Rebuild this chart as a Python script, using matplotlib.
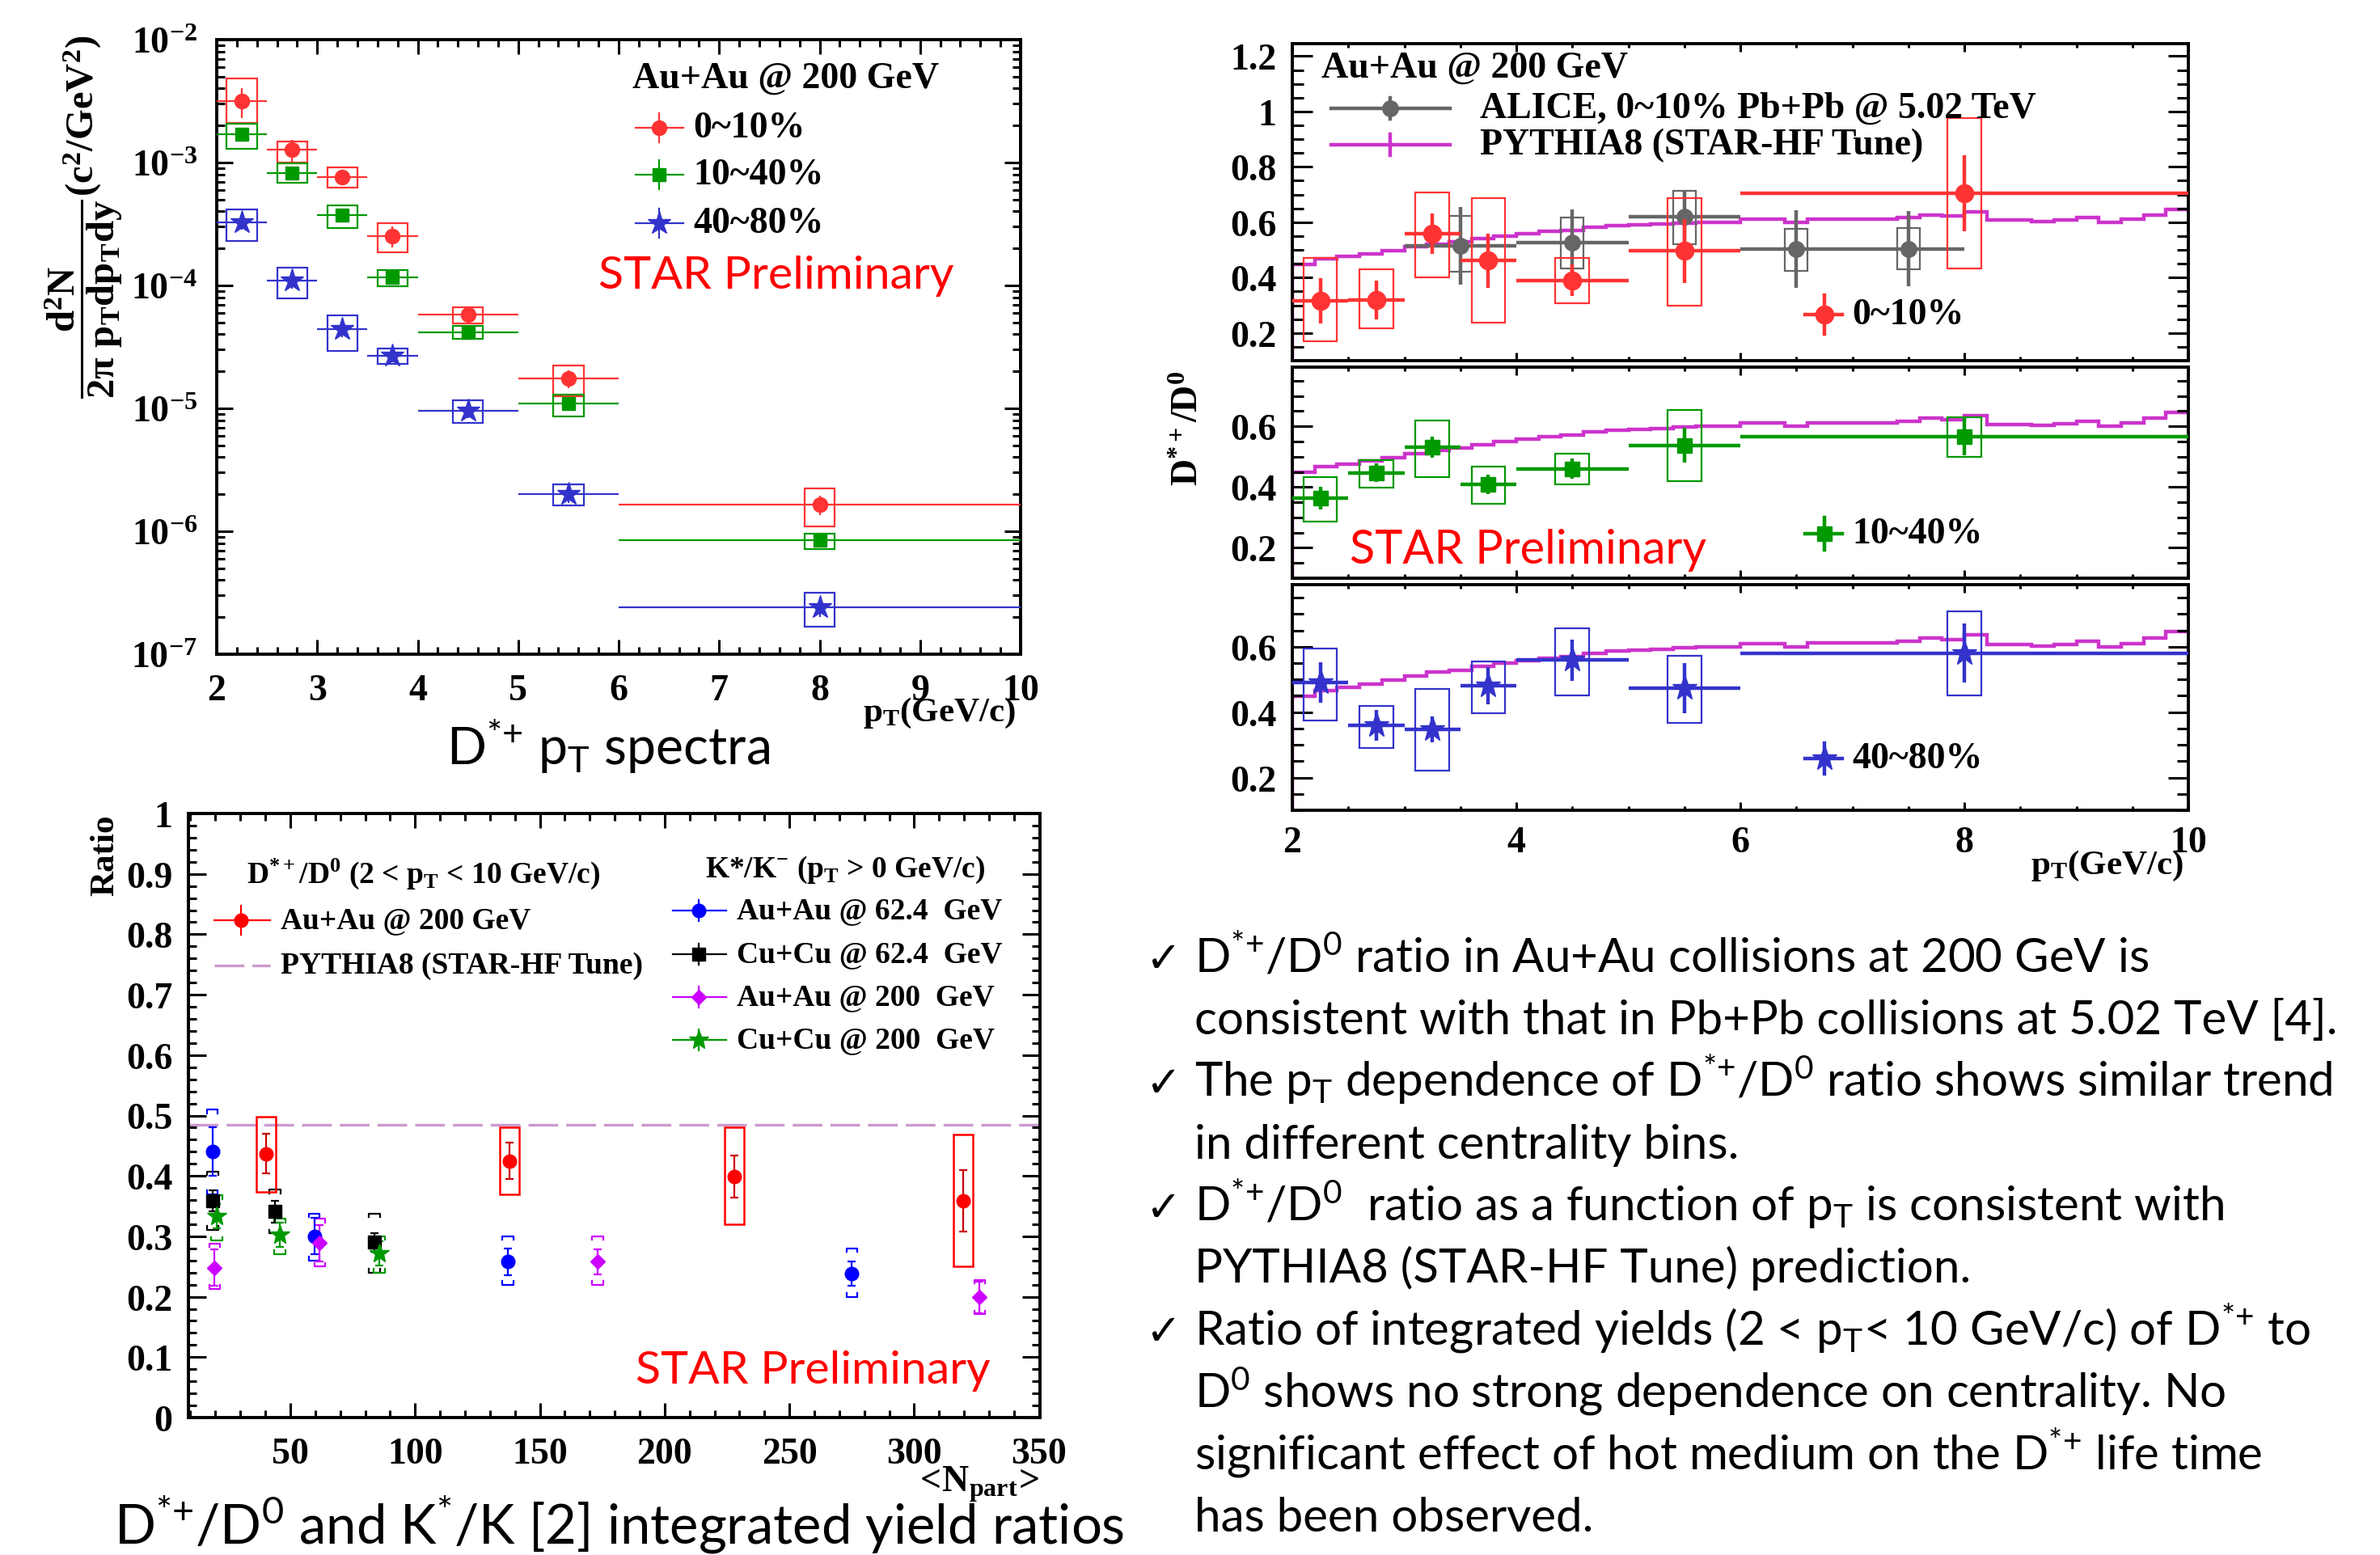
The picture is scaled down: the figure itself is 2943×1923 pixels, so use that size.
import numpy as np
import matplotlib
matplotlib.use('Agg')
import matplotlib.pyplot as plt
from matplotlib import font_manager
from matplotlib.patches import Rectangle
from matplotlib.lines import Line2D
from matplotlib.ticker import MultipleLocator, FuncFormatter, LogLocator, NullFormatter

W, H = 2943, 1924

names = {f.name for f in font_manager.fontManager.ttflist}
SANS = 'Liberation Sans Narrow' if 'Liberation Sans Narrow' in names else 'Lato'
SERIF = 'Liberation Serif'

plt.rcParams['font.family'] = [SERIF, 'DejaVu Serif']
plt.rcParams['font.weight'] = 'bold'
plt.rcParams['mathtext.fontset'] = 'custom'
plt.rcParams['mathtext.rm'] = SANS + ':weight=normal'
plt.rcParams['mathtext.it'] = SANS + ':italic:weight=normal'
plt.rcParams['mathtext.sf'] = SANS + ':weight=normal'
plt.rcParams['mathtext.bf'] = SERIF + ':weight=bold'

# ---------------- data: D*+ pT spectra, Au+Au 200 GeV
pt_edges = [2, 2.5, 3, 3.5, 4, 5, 6, 10]
pt = [2.25, 2.75, 3.25, 3.75, 4.5, 5.5, 8]

y010 = [3.16e-3, 1.27e-3, 7.6e-4, 2.53e-4, 5.8e-5, 1.75e-5, 1.65e-6]
y010_stat = [0.85e-3, 0.25e-3, 0.07e-3, 0.05e-3, 0.5e-5, 0.3e-5, 0.3e-6]
y010_lo = [2.10e-3, 1.0e-3, 6.3e-4, 1.85e-4, 4.94e-5, 1.25e-5, 1.09e-6]
y010_hi = [4.84e-3, 1.49e-3, 9.1e-4, 3.22e-4, 6.65e-5, 2.22e-5, 2.24e-6]

y1040 = [1.71e-3, 8.2e-4, 3.74e-4, 1.17e-4, 4.18e-5, 1.09e-5, 8.45e-7]
y1040_stat = [0.15e-3, 0.07e-3, 0.03e-3, 0.01e-3, 0.3e-5, 0.1e-5, 0.6e-7]
y1040_lo = [1.30e-3, 6.8e-4, 2.94e-4, 9.8e-5, 3.7e-5, 8.6e-6, 7.2e-7]
y1040_hi = [2.07e-3, 9.8e-4, 4.5e-4, 1.33e-4, 4.67e-5, 1.30e-5, 9.55e-7]

y4080 = [3.25e-4, 1.09e-4, 4.41e-5, 2.67e-5, 9.55e-6, 2.0e-6, 2.42e-7]
y4080_stat = [0.4e-4, 0.15e-4, 0.6e-5, 0.3e-5, 1.2e-6, 0.3e-6, 0.4e-7]
y4080_lo = [2.29e-4, 7.8e-5, 2.94e-5, 2.29e-5, 7.6e-6, 1.62e-6, 1.67e-7]
y4080_hi = [4.18e-4, 1.40e-4, 5.68e-5, 3.08e-5, 1.16e-5, 2.42e-6, 3.16e-7]

# ---------------- data: D*+/D0 vs pT
r010 = [0.317, 0.32, 0.559, 0.461, 0.39, 0.496, 0.705]
r010_stat = [0.082, 0.07, 0.072, 0.098, 0.057, 0.115, 0.137]
r010_lo = [0.17, 0.217, 0.40, 0.237, 0.307, 0.298, 0.434]
r010_hi = [0.47, 0.43, 0.709, 0.688, 0.47, 0.688, 0.976]

r1040 = [0.364, 0.447, 0.531, 0.409, 0.46, 0.538, 0.567]
r1040_stat = [0.037, 0.03, 0.035, 0.032, 0.033, 0.058, 0.063]
r1040_lo = [0.287, 0.397, 0.434, 0.346, 0.41, 0.42, 0.5]
r1040_hi = [0.434, 0.49, 0.619, 0.467, 0.509, 0.653, 0.631]

r4080 = [0.49, 0.359, 0.348, 0.481, 0.559, 0.473, 0.581]
r4080_stat = [0.062, 0.047, 0.04, 0.057, 0.063, 0.076, 0.09]
r4080_lo = [0.375, 0.29, 0.222, 0.397, 0.452, 0.367, 0.452]
r4080_hi = [0.595, 0.42, 0.47, 0.555, 0.657, 0.573, 0.709]

alice_edges = [3, 4, 5, 6, 7, 8]
alice_pt = [3.5, 4.5, 5.5, 6.5, 7.5]
alice_r = [0.515, 0.525, 0.62, 0.502, 0.504]
alice_stat = [0.14, 0.122, 0.09, 0.14, 0.135]
alice_lo = [0.42, 0.432, 0.52, 0.424, 0.43]
alice_hi = [0.624, 0.616, 0.714, 0.576, 0.58]

pythia_edges = np.linspace(2, 10, 41)
pythia_r = [0.449, 0.467, 0.476, 0.485, 0.498, 0.511, 0.522, 0.529, 0.540, 0.550,
            0.558, 0.566, 0.571, 0.581, 0.587, 0.590, 0.593, 0.597, 0.600, 0.600,
            0.610, 0.610, 0.600, 0.612, 0.612, 0.612, 0.612, 0.617, 0.626, 0.622,
            0.636, 0.607, 0.607, 0.602, 0.608, 0.617, 0.600, 0.610, 0.626, 0.646]

# ---------------- data: integrated ratios vs <Npart>
npart_d = [40.2, 137.7, 228.0, 319.7]
ratio_d = [0.437, 0.425, 0.399, 0.359]
ratio_d_stat = [0.033, 0.03, 0.035, 0.051]
ratio_d_lo = [0.373, 0.369, 0.32, 0.25]
ratio_d_hi = [0.498, 0.481, 0.481, 0.469]
pythia_int = [0.485]

auau62_npart = [18.8, 59.6, 137.2, 275.0]
auau62_r = [0.44, 0.30, 0.258, 0.238]
auau62_stat = [0.04, 0.03, 0.022, 0.02]
auau62_lo = [0.37, 0.26, 0.22, 0.20]
auau62_hi = [0.51, 0.338, 0.30, 0.28]

cucu62_npart = [19.0, 43.8, 83.7]
cucu62_r = [0.359, 0.341, 0.29]
cucu62_stat = [0.017, 0.018, 0.015]
cucu62_lo = [0.311, 0.305, 0.24]
cucu62_hi = [0.407, 0.377, 0.338]

auau200_npart = [19.7, 61.8, 173.2, 326.2]
auau200_r = [0.248, 0.289, 0.258, 0.199]
auau200_stat = [0.03, 0.03, 0.021, 0.026]
auau200_lo = [0.213, 0.25, 0.22, 0.171]
auau200_hi = [0.288, 0.329, 0.30, 0.228]

cucu200_npart = [20.5, 45.8, 85.7]
cucu200_r = [0.333, 0.302, 0.272]
cucu200_stat = [0.02, 0.02, 0.02]
cucu200_lo = [0.293, 0.271, 0.24]
cucu200_hi = [0.368, 0.329, 0.30]

RED, GREEN, BLUE = '#ff3333', '#009900', '#3333cc'
GRAY, MAG = '#666666', '#cc33cc'

fig = plt.figure(figsize=(W / 100, H / 100), dpi=100)


def px_axes(l, t, r, b):
    return fig.add_axes([l / W, 1 - b / H, (r - l) / W, (b - t) / H])


def ftext(x, y, s, **kw):
    return fig.text(x / W, 1 - y / H, s, **kw)


def fline(xs, ys, **kw):
    fig.add_artist(Line2D([x / W for x in xs], [1 - y / H for y in ys],
                          transform=fig.transFigure, **kw))


def leg_entry(xm, x0, x1, y, dy, color, marker, ms, lw, label, xt, fs, **kw):
    if x1 > x0:
        fline([x0, x1], [y, y], color=color, lw=lw, **kw)
    if dy:
        fline([xm, xm], [y - dy, y + dy], color=color, lw=lw)
    if marker:
        fline([xm], [y], ls='none', marker=marker, color=color, ms=ms)
    ftext(xt, y, label, fontsize=fs, va='center', ha='left')


def root_style(ax, xmaj, xmin, ymaj, ymin, lsize, xpad, ypad):
    ax.tick_params(which='both', direction='in', top=True, right=True,
                   width=2.2, labelsize=lsize)
    ax.xaxis.set_tick_params(which='major', length=xmaj, pad=xpad)
    ax.xaxis.set_tick_params(which='minor', length=xmin)
    ax.yaxis.set_tick_params(which='major', length=ymaj, pad=ypad)
    ax.yaxis.set_tick_params(which='minor', length=ymin)
    for s in ax.spines.values():
        s.set_linewidth(2.8)


def fit_width(t, target):
    r = fig.canvas.get_renderer()
    w = t.get_window_extent(r).width
    t.set_fontsize(t.get_fontsize() * target / w)


gfmt = FuncFormatter(lambda v, p: '%g' % round(v, 3))

# ================= top-left: spectra
ax1 = px_axes(268, 50, 1262, 810)


def draw_spectra(ax, y, stat, lo, hi, color, marker, ms):
    for xi, l, h in zip(pt, lo, hi):
        ax.add_patch(Rectangle((xi - 0.15, l), 0.3, h - l, fill=False,
                               ec=color, lw=1.6, zorder=2))
    xl = np.array(pt) - np.array(pt_edges[:-1])
    xh = np.array(pt_edges[1:]) - np.array(pt)
    ax.errorbar(pt, y, xerr=[xl, xh], yerr=stat, fmt=marker, color=color,
                ms=ms, elinewidth=1.6, capsize=0, zorder=3)


draw_spectra(ax1, y010, y010_stat, y010_lo, y010_hi, RED, 'o', 13)
draw_spectra(ax1, y1040, y1040_stat, y1040_lo, y1040_hi, GREEN, 's', 11)
draw_spectra(ax1, y4080, y4080_stat, y4080_lo, y4080_hi, BLUE, '*', 21)
ax1.set_yscale('log')
ax1.set_xlim(2, 10)
ax1.set_ylim(1e-7, 1e-2)
ax1.xaxis.set_major_locator(MultipleLocator(1))
ax1.xaxis.set_minor_locator(MultipleLocator(0.2))
ax1.yaxis.set_major_locator(LogLocator(base=10, numticks=10))
ax1.yaxis.set_minor_locator(LogLocator(base=10, subs=range(2, 10), numticks=10))
ax1.yaxis.set_minor_formatter(NullFormatter())
ax1.yaxis.set_major_formatter(FuncFormatter(
    lambda v, p: r'$\mathbf{10^{%d}}$' % round(np.log10(v))))
root_style(ax1, 13, 6.5, 14.5, 7.2, 33, 17, 17)

ftext(1256, 882, r'$\mathbf{p_{T}(GeV/c)}$', fontsize=31, ha='right', va='center')
ftext(104, 268, r'$\dfrac{\mathbf{d^{2}N}}{\mathbf{2\pi\ p_{T}dp_{T}dy}}\mathbf{(c^{2}/GeV^{2})}$',
      fontsize=35, rotation=90, ha='center', va='center')

ftext(782, 98, 'Au+Au @ 200 GeV', fontsize=33, va='center')
leg_entry(815, 786, 845, 159, 18, RED, 'o', 13, 1.6, '0~10%', 857, 33)
leg_entry(815, 786, 845, 217, 18, GREEN, 's', 11, 1.6, '10~40%', 857, 33)
leg_entry(815, 786, 845, 277, 18, BLUE, '*', 21, 1.6, '40~80%', 857, 33)

# ================= top-right: D*+/D0 vs pT
ax2 = px_axes(1598, 55, 2706, 447)
ax3 = px_axes(1598, 455, 2706, 716)
ax4 = px_axes(1598, 724, 2706, 1003)


def draw_ratio(ax, x, edges, r, stat, lo, hi, color, marker, ms, bw, z=3):
    for xi, l, h in zip(x, lo, hi):
        ax.add_patch(Rectangle((xi - bw, l), 2 * bw, h - l, fill=False,
                               ec=color, lw=1.6, zorder=z - 0.5))
    xl = np.array(x) - np.array(edges[:-1])
    xh = np.array(edges[1:]) - np.array(x)
    ax.errorbar(x, r, xerr=[xl, xh], yerr=stat, fmt=marker, color=color,
                ms=ms, elinewidth=3.2, capsize=0, zorder=z)


for ax, ylim in [(ax2, (0.1, 1.245)), (ax3, (0.1, 0.795)), (ax4, (0.1, 0.79))]:
    ax.stairs(pythia_r, pythia_edges, baseline=None, color=MAG, lw=3.2, zorder=1.5)
    ax.plot([2, 2], [ylim[0], pythia_r[0]], color=MAG, lw=3.2, zorder=1.5)
    ax.set_xlim(2, 10)
    ax.set_ylim(*ylim)
    ax.xaxis.set_major_locator(MultipleLocator(2))
    ax.xaxis.set_minor_locator(MultipleLocator(0.5))
    ax.yaxis.set_major_locator(MultipleLocator(0.2))
    ax.yaxis.set_minor_locator(MultipleLocator(0.05))
    ax.yaxis.set_major_formatter(gfmt)
    root_style(ax, 7, 3.5, 18, 10, 33, 14, 14)
ax2.tick_params(labelbottom=False)
ax3.tick_params(labelbottom=False)
ax4.xaxis.set_major_formatter(gfmt)

draw_ratio(ax2, alice_pt, alice_edges, alice_r, alice_stat, alice_lo, alice_hi,
           GRAY, 'o', 14, 0.1, z=3)
draw_ratio(ax2, pt, pt_edges, r010, r010_stat, r010_lo, r010_hi, RED, 'o', 16, 0.15, z=4)
draw_ratio(ax3, pt, pt_edges, r1040, r1040_stat, r1040_lo, r1040_hi, GREEN, 's', 13, 0.15)
draw_ratio(ax4, pt, pt_edges, r4080, r4080_stat, r4080_lo, r4080_hi, BLUE, '*', 23, 0.15)

ftext(2700, 1071, r'$\mathbf{p_{T}(GeV/c)}$', fontsize=31, ha='right', va='center')
ftext(1470, 530, r'$\mathbf{D^{*+}/D^{0}}$', fontsize=33, rotation=90, ha='center', va='center')

ftext(1634, 85, 'Au+Au @ 200 GeV', fontsize=33, va='center')
leg_entry(1719, 1646, 1793, 135, 13, GRAY, 'o', 14, 3.2, 'ALICE, 0~10% Pb+Pb @ 5.02 TeV', 1830, 33)
leg_entry(1719, 1646, 1793, 180, 13, MAG, None, 0, 3.2, 'PYTHIA8 (STAR-HF Tune)', 1830, 33)
leg_entry(2256, 2232, 2278, 390, 24, RED, 'o', 16, 3.2, '0~10%', 2290, 33)
leg_entry(2256, 2232, 2278, 661, 20, GREEN, 's', 13, 3.2, '10~40%', 2290, 33)
leg_entry(2256, 2232, 2278, 939, 19, BLUE, '*', 23, 3.2, '40~80%', 2290, 33)

# ================= bottom-left: integrated ratios
ax5 = px_axes(233, 1007, 1286, 1754)
ax5.axhline(pythia_int[0], color='#cc99cc', lw=2.4, dashes=(11, 3), zorder=1)


def brackets(ax, x, lo, hi, color, w=2.2, d=0.006):
    for xi, l, h in zip(x, lo, hi):
        ax.plot([xi - w, xi - w, xi + w, xi + w], [h - d, h, h, h - d], color=color, lw=1.6, zorder=2)
        ax.plot([xi - w, xi - w, xi + w, xi + w], [l + d, l, l, l + d], color=color, lw=1.6, zorder=2)


for x, r, st, lo, hi, c, m, ms in [
        (auau62_npart, auau62_r, auau62_stat, auau62_lo, auau62_hi, '#0000ff', 'o', 12),
        (cucu62_npart, cucu62_r, cucu62_stat, cucu62_lo, cucu62_hi, 'black', 's', 12),
        (cucu200_npart, cucu200_r, cucu200_stat, cucu200_lo, cucu200_hi, '#009900', '*', 18),
        (auau200_npart, auau200_r, auau200_stat, auau200_lo, auau200_hi, '#cc00ff', 'D', 9)]:
    brackets(ax5, x, lo, hi, c)
    ax5.errorbar(x, r, yerr=st, fmt=m, color=c, ms=ms, elinewidth=1.6,
                 capsize=3.5, capthick=1.6, zorder=3)

for xi, l, h in zip(npart_d, ratio_d_lo, ratio_d_hi):
    ax5.add_patch(Rectangle((xi - 3.9, l), 7.8, h - l, fill=False, ec='#ff0000', lw=1.8, zorder=2))
ax5.errorbar(npart_d, ratio_d, yerr=ratio_d_stat, fmt='o', color='#ff0000', ecolor='#cc0000',
             ms=12, elinewidth=1.6, capsize=3.5, capthick=1.6, zorder=4)

ax5.set_xlim(9.2, 350.4)
ax5.set_ylim(0, 1)
ax5.xaxis.set_major_locator(MultipleLocator(50))
ax5.xaxis.set_minor_locator(MultipleLocator(10))
ax5.yaxis.set_major_locator(MultipleLocator(0.1))
ax5.yaxis.set_minor_locator(MultipleLocator(0.02))
ax5.yaxis.set_major_formatter(gfmt)
root_style(ax5, 13, 6.5, 16, 7, 33, 17, 14)

ftext(130, 1007, 'Ratio', fontsize=31, rotation=90, ha='center', va='top')
ftext(1285, 1836, r'$\mathbf{<\!N_{part}\!>}$', fontsize=33, ha='right', va='center')

ftext(305, 1081, r'D$^{\mathbf{*+}}$/D$^{\mathbf{0}}$ (2 < p$_{\mathbf{T}}$ < 10 GeV/c)', fontsize=27, va='center')
leg_entry(298, 265, 334, 1139, 18, '#ff0000', 'o', 12, 1.6, 'Au+Au @ 200 GeV', 347, 27)
leg_entry(298, 265, 334, 1195, 0, '#cc99cc', None, 0, 2.4, 'PYTHIA8 (STAR-HF Tune)', 347, 27,
          dashes=(11, 3))
ftext(872, 1076, r'K*/K$^{\mathbf{-}}$ (p$_{\mathbf{T}}$ > 0 GeV/c)', fontsize=27, va='center')
leg_entry(864, 832, 898, 1127, 13, '#0000ff', 'o', 12, 1.6, 'Au+Au @ 62.4  GeV', 911, 27)
leg_entry(864, 832, 898, 1181, 13, 'black', 's', 12, 1.6, 'Cu+Cu @ 62.4  GeV', 911, 27)
leg_entry(864, 832, 898, 1234, 13, '#cc00ff', 'D', 9, 1.6, 'Au+Au @ 200  GeV', 911, 27)
leg_entry(864, 832, 898, 1287, 13, '#009900', '*', 18, 1.6, 'Cu+Cu @ 200  GeV', 911, 27)

# ================= slide texts
SF = [SANS, 'DejaVu Sans']
DS = r'D$^{*{+}}$'
for x, y, w in [(740, 357, 439), (1669, 697, 441), (786, 1711, 438)]:
    t = ftext(x, y, 'STAR Preliminary', family=SF, weight='normal', color='#ff0000',
              fontsize=40, va='baseline')
    fit_width(t, w)

t = ftext(552, 946, DS + r' p$_{\mathrm{T}}$ spectra', family=SF, weight='normal',
          fontsize=40, va='baseline')
fit_width(t, 400)
t = ftext(141, 1910, DS + r'/D$^{0}$ and K$^{*}$/K [2] integrated yield ratios',
          family=SF, weight='normal', fontsize=40, va='baseline')
fit_width(t, 1250)
t = ftext(1273, -5, 'Results', family=SF, weight='normal', color='#3a4f7a',
          fontsize=60, va='baseline')
fit_width(t, 327)

lines = [DS + r'/D$^{0}$ ratio in Au+Au collisions at 200 GeV is',
         'consistent with that in Pb+Pb collisions at 5.02 TeV [4].',
         r'The p$_{\mathrm{T}}$ dependence of ' + DS + r'/D$^{0}$ ratio shows similar trend',
         'in different centrality bins.',
         DS + r'/D$^{0}$  ratio as a function of p$_{\mathrm{T}}$ is consistent with',
         'PYTHIA8 (STAR-HF Tune) prediction.',
         r'Ratio of integrated yields (2 < p$_{\mathrm{T}}$< 10 GeV/c) of ' + DS + ' to',
         r'D$^{0}$ shows no strong dependence on centrality. No',
         'significant effect of hot medium on the ' + DS + ' life time',
         'has been observed.']
bullets = [0, 2, 4, 6]
tl = []
for i, s in enumerate(lines):
    yb = 1202 + 76.9 * i
    tl.append(ftext(1477, yb, s, family=SF, weight='normal', fontsize=40, va='baseline'))
    if i in bullets:
        ftext(1416, yb, '\u2713', family=['DejaVu Sans'], weight='normal', fontsize=38, va='baseline')
fit_width(tl[1], 1415)
for t in tl:
    t.set_fontsize(tl[1].get_fontsize())

fig.savefig('out.png', dpi=100)
